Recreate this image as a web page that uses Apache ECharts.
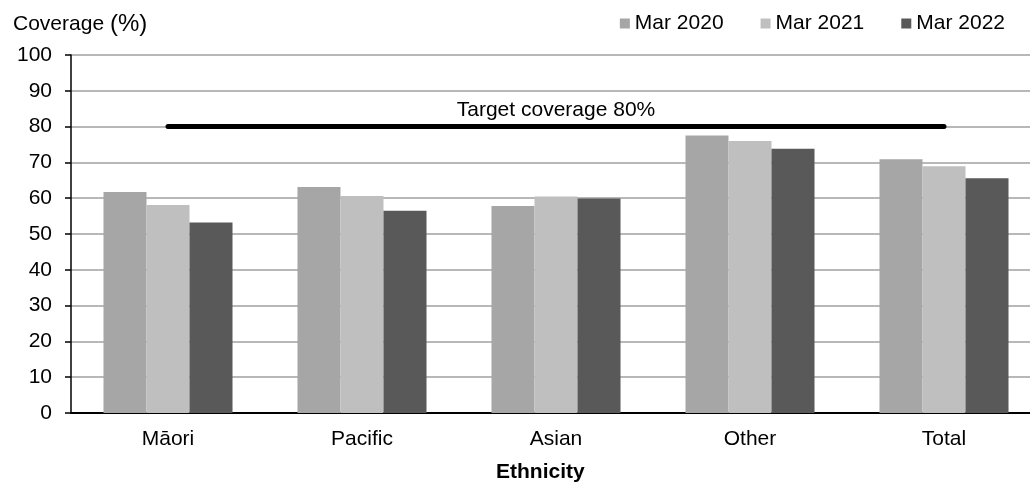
<!DOCTYPE html>
<html>
<head>
<meta charset="utf-8">
<script src="https://cdn.jsdelivr.net/npm/echarts@6/dist/echarts.min.js"></script>
<style>
html,body{margin:0;padding:0;background:#fff;}
#chart{width:1030px;height:484px;}
</style>
</head>
<body>
<div id="chart"></div>
<script>
var categories = ['Māori', 'Pacific', 'Asian', 'Other', 'Total'];
var seriesNames = ['Mar 2020', 'Mar 2021', 'Mar 2022'];
var mar2020 = [61.7, 63.1, 57.8, 77.5, 70.9];
var mar2021 = [58.1, 60.6, 60.5, 76.0, 68.9];
var mar2022 = [53.2, 56.5, 59.9, 73.8, 65.6];
var yTicks = [0, 100, 10];
var targetValue = 80;
var targetLabel = 'Target coverage 80%';

var font = 'Liberation Sans, Arial, sans-serif';
var colors = ['#a6a6a6', '#bfbfbf', '#595959'];
var values = [mar2020, mar2021, mar2022];

var chart = echarts.init(document.getElementById('chart'), null, {renderer: 'canvas'});

var series = values.map(function (v, i) {
  var s = {
    name: seriesNames[i],
    type: 'bar',
    data: v,
    barGap: '0%',
    barCategoryGap: '33.5%',
    itemStyle: {color: colors[i]},
    emphasis: {disabled: true}
  };
  if (i === 1) {
    s.markLine = {
      silent: true,
      symbol: ['none', 'none'],
      animation: false,
      lineStyle: {color: '#000', width: 5, type: 'solid', cap: 'round'},
      label: {
        show: true,
        position: 'middle',
        formatter: targetLabel,
        color: '#000',
        fontFamily: font,
        fontSize: 21,
        distance: 6
      },
      data: [[{coord: [categories[0], targetValue]}, {coord: [categories[categories.length - 1], targetValue]}]]
    };
  }
  return s;
});

chart.setOption({
  animation: false,
  textStyle: {fontFamily: font},
  title: {
    left: 8,
    top: 7,
    text: '{a|Coverage }{b|(%)}',
    textStyle: {
      fontWeight: 'normal',
      rich: {
        a: {fontSize: 21, fontFamily: font, color: '#000', fontWeight: 'normal'},
        b: {fontSize: 24, fontFamily: font, color: '#000', fontWeight: 'normal'}
      }
    }
  },
  legend: {
    right: 20,
    top: 8,
    itemWidth: 10,
    itemHeight: 10,
    itemGap: 37,
    icon: 'rect',
    data: seriesNames,
    textStyle: {fontSize: 21, fontFamily: font, color: '#000'}
  },
  grid: {left: 71, width: 970, top: 55, bottom: 71, containLabel: false, outerBoundsMode: 'none'},
  xAxis: {
    type: 'category',
    data: categories,
    axisLine: {show: true, lineStyle: {color: '#000', width: 2}},
    axisTick: {show: false},
    axisLabel: {fontSize: 21, fontFamily: font, color: '#000', margin: 16}
  },
  yAxis: {
    type: 'value',
    min: yTicks[0],
    max: yTicks[1],
    interval: yTicks[2],
    axisLine: {show: true, lineStyle: {color: '#000', width: 1.5}},
    axisTick: {show: true, length: 6, lineStyle: {color: '#000', width: 1.5}},
    axisLabel: {fontSize: 21, fontFamily: font, color: '#000', margin: 19},
    splitLine: {show: true, lineStyle: {color: '#a0a0a0', width: 1.5}}
  },
  graphic: [{
    type: 'text',
    left: 496,
    top: 462,
    style: {text: 'Ethnicity', fontSize: 21, fontWeight: 'bold', fontFamily: font, fill: '#000'}
  }],
  series: series
});
</script>
</body>
</html>
